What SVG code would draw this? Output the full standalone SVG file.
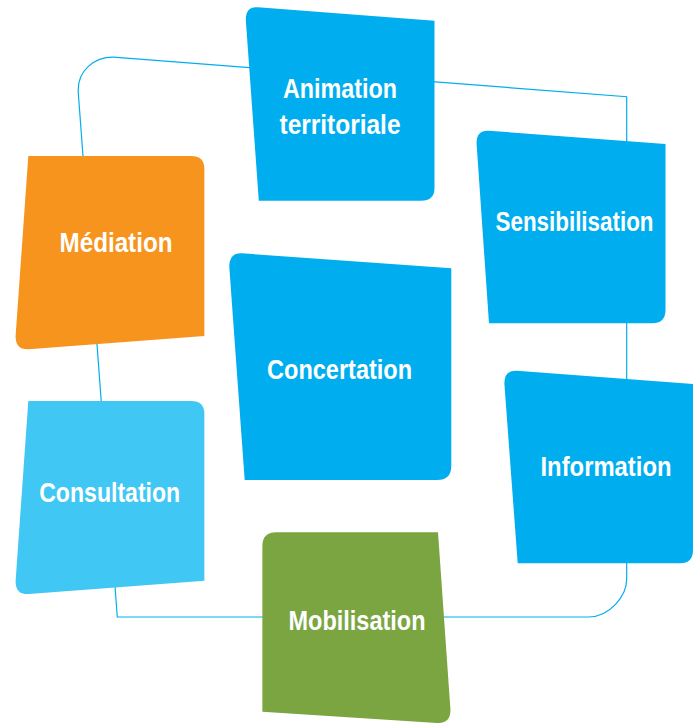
<svg xmlns="http://www.w3.org/2000/svg" width="693" height="723" viewBox="0 0 693 723">
<style>
.lbl{font-family:"Liberation Sans",Arial,sans-serif;font-weight:bold;font-size:27px;fill:#ffffff;text-anchor:middle}
.blue{fill:#00aeef}
.orange{fill:#f7941e}
.light{fill:#41c7f4}
.green{fill:#7aa541}
.conn{fill:none;stroke:#00aeef;stroke-width:1.2}
</style>
<rect width="693" height="723" fill="#ffffff"/>
<g id="connectors">
<path class="conn" d="M117.3,617 L588.5,617 C609.6,617 626.7,596 626.7,579 L626.7,96.7 L116.7,57.3 C93.9,55.5 76.7,71.5 78.3,93 Z"/>
</g>
<g id="animation">
<path class="blue" d="M258,7.2 L434.5,20.7 L434.5,188 Q434.5,200.7 421,200.7 L258.8,200.7 L245.8,20 Q245.5,6.3 258,7.2 Z"/>
<text class="lbl" x="340" y="98.3" textLength="114" lengthAdjust="spacingAndGlyphs">Animation</text>
<text class="lbl" x="340" y="133.5" textLength="121" lengthAdjust="spacingAndGlyphs">territoriale</text>
</g>
<g id="sensibilisation">
<path class="blue" d="M489,130.8 L665.5,144 L665.5,310 Q665.5,323.3 652,323.3 L489,323.3 L476.6,144 Q476,130 489,130.8 Z"/>
<text class="lbl" x="574.5" y="230.7" textLength="158" lengthAdjust="spacingAndGlyphs">Sensibilisation</text>
</g>
<g id="mediation">
<path class="orange" d="M28.3,156 L191,156 Q204.4,156 204.4,169 L204.4,336 L28.5,349.3 Q15.3,350 15.6,336 Z"/>
<text class="lbl" x="116" y="251.5" textLength="113" lengthAdjust="spacingAndGlyphs">Médiation</text>
</g>
<g id="concertation">
<path class="blue" d="M242,253.3 L451.3,268.3 L451.3,466 Q451.3,480 437,480 L244.7,480 L229.3,267 Q229,252.5 242,253.3 Z"/>
<text class="lbl" x="339.6" y="379" textLength="145" lengthAdjust="spacingAndGlyphs">Concertation</text>
</g>
<g id="information">
<path class="blue" d="M517,370.7 L693,384 L693,550 Q693,563.3 680,563.3 L517.7,563.3 L504.4,384 Q504,370 517,370.7 Z"/>
<text class="lbl" x="606" y="476" textLength="131" lengthAdjust="spacingAndGlyphs">Information</text>
</g>
<g id="consultation">
<path class="light" d="M28.3,401 L191,401 Q204.4,401 204.4,414 L204.4,580.7 L29,594 Q15.4,595 15.6,581 Z"/>
<text class="lbl" x="109.7" y="502.3" textLength="141" lengthAdjust="spacingAndGlyphs">Consultation</text>
</g>
<g id="mobilisation">
<path class="green" d="M276.5,532.3 L438,532.3 L450.4,709 Q451,723.5 437,723 L262.4,711.7 L262.4,546 Q262.4,532.3 276.5,532.3 Z"/>
<text class="lbl" x="357" y="630" textLength="137" lengthAdjust="spacingAndGlyphs">Mobilisation</text>
</g>
</svg>
